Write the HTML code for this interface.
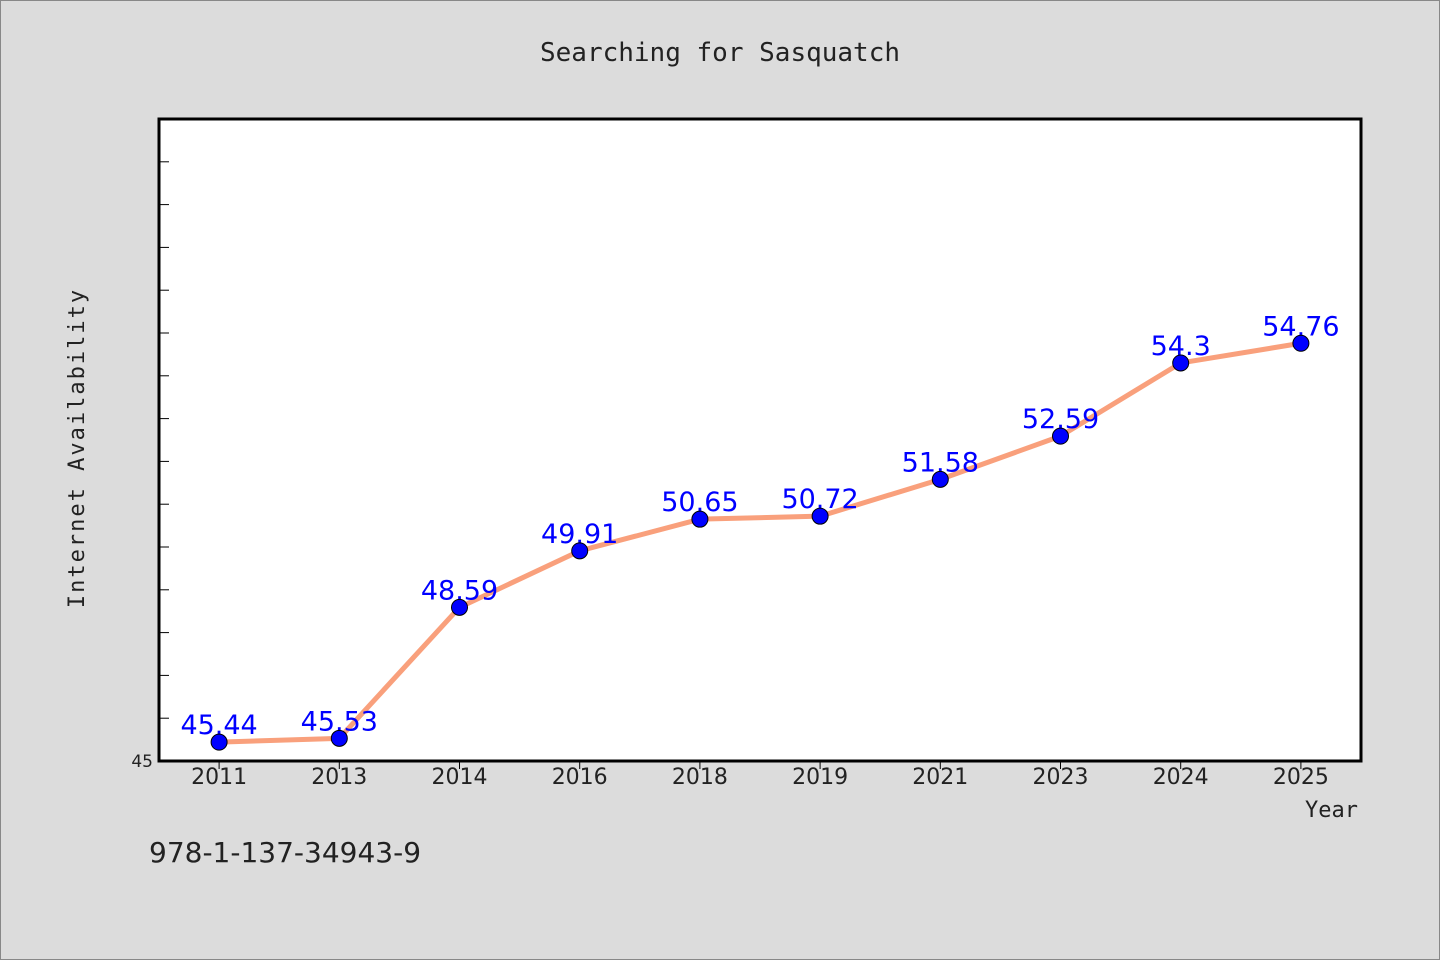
<!DOCTYPE html>
<html><head><meta charset="utf-8"><style>
html,body{margin:0;padding:0;background:#dcdcdc;}
svg{display:block;font-family:"WenQuanYi Zen Hei","DejaVu Sans",sans-serif;}
</style></head><body>
<svg id="chart" width="1440" height="960">
<rect x="0.5" y="0.5" width="1439" height="959" fill="#dcdcdc" stroke="#888"/>
<text x="720" y="61" text-anchor="middle" font-size="26" fill="#222" font-family="'WenQuanYi Zen Hei Mono','DejaVu Sans Mono',monospace">Searching for Sasquatch</text>
<rect x="159" y="119" width="1202" height="642" fill="#fff" stroke="#000" stroke-width="3"/>
<g id="yticks"></g>
<g id="xticks"></g>
<g id="series"></g>
<text x="84" y="448" text-anchor="middle" font-size="22" fill="#222" letter-spacing="2" transform="rotate(-90 84 448)" font-family="'WenQuanYi Zen Hei Mono','DejaVu Sans Mono',monospace">Internet Availability</text>
<text x="1358" y="817" text-anchor="end" font-size="22" fill="#222" font-family="'WenQuanYi Zen Hei Mono','DejaVu Sans Mono',monospace">Year</text>
<text x="149" y="862" font-size="28" fill="#222">978-1-137-34943-9</text>
</svg>
<script>
const categories = ["2011","2013","2014","2016","2018","2019","2021","2023","2024","2025"];
const values = [45.44,45.53,48.59,49.91,50.65,50.72,51.58,52.59,54.3,54.76];
const yTickLabels = ["45"];
const yMin = 45, yMax = 60;
const NS="http://www.w3.org/2000/svg";
const L=159,R=1361,T=119,B=761;
const band=(R-L)/categories.length;
const xs=i=>L+band*(i+0.5);
const ys=v=>B-(v-yMin)/(yMax-yMin)*(B-T);
function mk(tag,attrs,parent){const e=document.createElementNS(NS,tag);for(const k in attrs)e.setAttribute(k,attrs[k]);parent.appendChild(e);return e;}
const yg=document.getElementById('yticks');
for(let v=yMin+1;v<=yMax;v++){
  const t=mk('line',{x1:L,x2:L+10,y1:ys(v),y2:ys(v),stroke:'#000','stroke-width':1},yg);
  
  
}
yTickLabels.forEach(s=>{
  const t=mk('text',{x:L-6,y:ys(+s)+6,'text-anchor':'end','font-size':17,fill:'#222'},yg);
  t.textContent=s;
  
  
});
const xg=document.getElementById('xticks');
categories.forEach((c,i)=>{
  const t=mk('line',{x1:xs(i),x2:xs(i),y1:B,y2:B+8,stroke:'#000','stroke-width':1},xg);
  
  
  const lb=mk('text',{x:xs(i),y:B+23,'text-anchor':'middle','font-size':22,fill:'#222'},xg);
  lb.textContent=c;
  
  
});
const sg=document.getElementById('series');
const line=mk('polyline',{points:values.map((v,i)=>xs(i)+','+ys(v)).join(' '),fill:'none',stroke:'#f9a07c','stroke-width':5,'stroke-linejoin':'round'},sg);


values.forEach((v,i)=>{
  const lb=mk('text',{x:xs(i),y:ys(v)-8,'text-anchor':'middle','font-size':27,fill:'#0000ff'},sg);
  lb.textContent=String(v);
  
  
});
values.forEach((v,i)=>{
  const p=mk('circle',{cx:xs(i),cy:ys(v),r:8,fill:'#0000ff',stroke:'#000','stroke-width':1},sg);
  
  
});
</script>
</body></html>
